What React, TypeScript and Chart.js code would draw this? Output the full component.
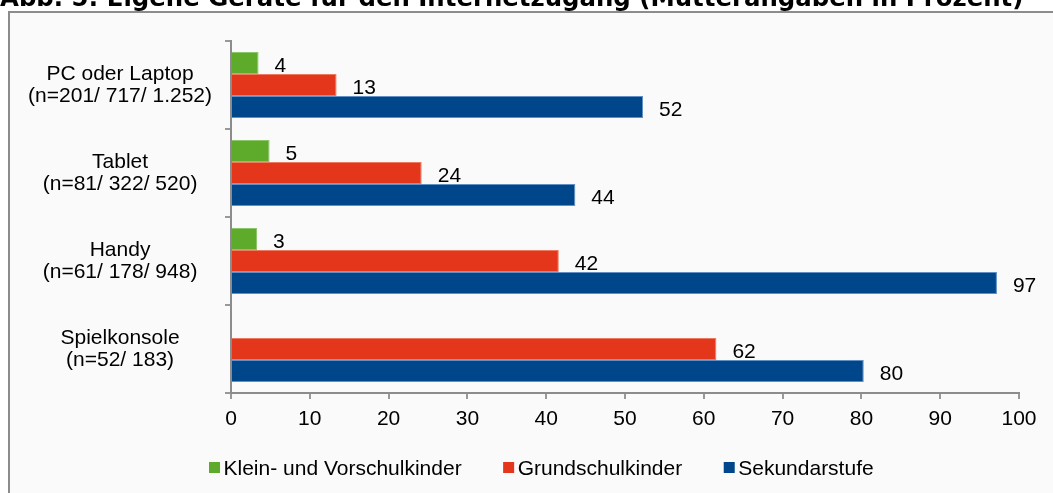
import React, { useEffect, useRef } from 'react';
import { Chart, registerables } from 'chart.js';

Chart.register(...registerables);

const titleText = 'Abb. 5: Eigene Geräte für den Internetzugang (Mütterangaben in Prozent)';

const categories: string[][] = [
  ['PC oder Laptop', '(n=201/ 717/ 1.252)'],
  ['Tablet', '(n=81/ 322/ 520)'],
  ['Handy', '(n=61/ 178/ 948)'],
  ['Spielkonsole', '(n=52/ 183)'],
];

const seriesNames = ['Klein- und Vorschulkinder', 'Grundschulkinder', 'Sekundarstufe'];
const kleinUndVorschulkinder: (number | null)[] = [3.5, 4.9, 3.3, null];
const grundschulkinder: (number | null)[] = [13.4, 24.2, 41.6, 61.6];
const sekundarstufe: (number | null)[] = [52.3, 43.7, 97.2, 80.3];

const xMin = 0;
const xMax = 100;
const xStep = 10;

const fillColors = ['#5EAB2B', '#E3361A', '#00468B'];
const edgeColors = ['#8cc56a', '#ef7a62', '#5f8fc4'];

const FONT = '"Liberation Sans", Arial, sans-serif';

const framePlugin = {
  id: 'frame',
  beforeDraw(chart: any) {
    const ctx = chart.ctx;
    ctx.save();
    ctx.fillStyle = '#ffffff';
    ctx.fillRect(0, 0, chart.width, chart.height);
    ctx.fillStyle = '#fafafa';
    ctx.fillRect(9, 12, chart.width + 20, chart.height + 20);
    ctx.strokeStyle = '#8c8c8c';
    ctx.lineWidth = 2;
    ctx.strokeRect(9, 12, chart.width + 20, chart.height + 20);
    ctx.fillStyle = '#000000';
    ctx.font = 'bold 24.4px "DejaVu Sans", Verdana, sans-serif';
    ctx.textBaseline = 'alphabetic';
    ctx.textAlign = 'left';
    ctx.fillText(titleText, 0, 6);
    ctx.restore();
  },
};

const valueLabelPlugin = {
  id: 'valueLabels',
  afterDatasetsDraw(chart: any) {
    const ctx = chart.ctx;
    ctx.save();
    ctx.font = '21px ' + FONT;
    ctx.fillStyle = '#000000';
    ctx.textAlign = 'left';
    ctx.textBaseline = 'alphabetic';
    chart.data.datasets.forEach((ds: any, di: number) => {
      const meta = chart.getDatasetMeta(di);
      meta.data.forEach((el: any, i: number) => {
        const v = ds.data[i];
        if (v === null || v === undefined) return;
        ctx.fillText(String(Math.round(v)), el.x + 16, el.y + 9);
      });
    });
    ctx.restore();
  },
};

const legendPlugin = {
  id: 'customLegend',
  afterDraw(chart: any) {
    const ctx = chart.ctx;
    ctx.save();
    ctx.font = '21px ' + FONT;
    ctx.textAlign = 'left';
    ctx.textBaseline = 'alphabetic';
    let x = 209;
    chart.data.datasets.forEach((ds: any, di: number) => {
      ctx.fillStyle = fillColors[di];
      ctx.fillRect(x, 462, 11, 11);
      ctx.fillStyle = '#000000';
      ctx.fillText(ds.label, x + 14.5, 475);
      x += 14.5 + ctx.measureText(ds.label).width + 41.5;
    });
    ctx.restore();
  },
};

export default function App() {
  const ref = useRef<HTMLCanvasElement | null>(null);

  useEffect(() => {
    document.body.style.margin = '0';
    const canvas = ref.current;
    if (!canvas) return;
    const seriesData = [kleinUndVorschulkinder, grundschulkinder, sekundarstufe];
    const chart = new Chart(canvas, {
      type: 'bar',
      data: {
        labels: categories,
        datasets: seriesData.map((d, i) => ({
          label: seriesNames[i],
          data: d,
          backgroundColor: fillColors[i],
          borderColor: edgeColors[i],
          borderWidth: 1,
          categoryPercentage: 0.75,
          barPercentage: 1.0,
        })),
      },
      options: {
        indexAxis: 'y',
        responsive: false,
        animation: false,
        devicePixelRatio: 1,
        events: [],
        layout: { padding: { top: 41, right: 34, bottom: 60, left: 0 } },
        plugins: {
          legend: { display: false },
          title: { display: false },
          tooltip: { enabled: false },
        },
        scales: {
          x: {
            type: 'linear',
            min: xMin,
            max: xMax,
            ticks: {
              stepSize: xStep,
              color: '#000000',
              font: { family: FONT, size: 21 },
              padding: 8,
            },
            grid: {
              drawOnChartArea: false,
              drawTicks: true,
              tickLength: 6,
              color: '#999999',
              lineWidth: 2,
            },
            border: { display: true, color: '#8c8c8c', width: 2 },
            afterFit: (scale: any) => {
              scale.height = 40;
            },
          },
          y: {
            type: 'category',
            ticks: {
              color: '#000000',
              font: { family: FONT, size: 21, lineHeight: 1.03 },
              crossAlign: 'center',
              padding: 13,
            },
            grid: {
              drawOnChartArea: false,
              drawTicks: true,
              tickLength: 6,
              color: '#999999',
              lineWidth: 2,
            },
            border: { display: true, color: '#8c8c8c', width: 2 },
            afterFit: (scale: any) => {
              scale.width = 231;
            },
          },
        },
      },
      plugins: [framePlugin, valueLabelPlugin, legendPlugin],
    } as any);
    return () => {
      chart.destroy();
    };
  }, []);

  return (
    <div style={{ width: 1053, height: 493, overflow: 'hidden' }}>
      <canvas ref={ref} width={1053} height={493} style={{ display: 'block', width: 1053, height: 493 }} />
    </div>
  );
}
